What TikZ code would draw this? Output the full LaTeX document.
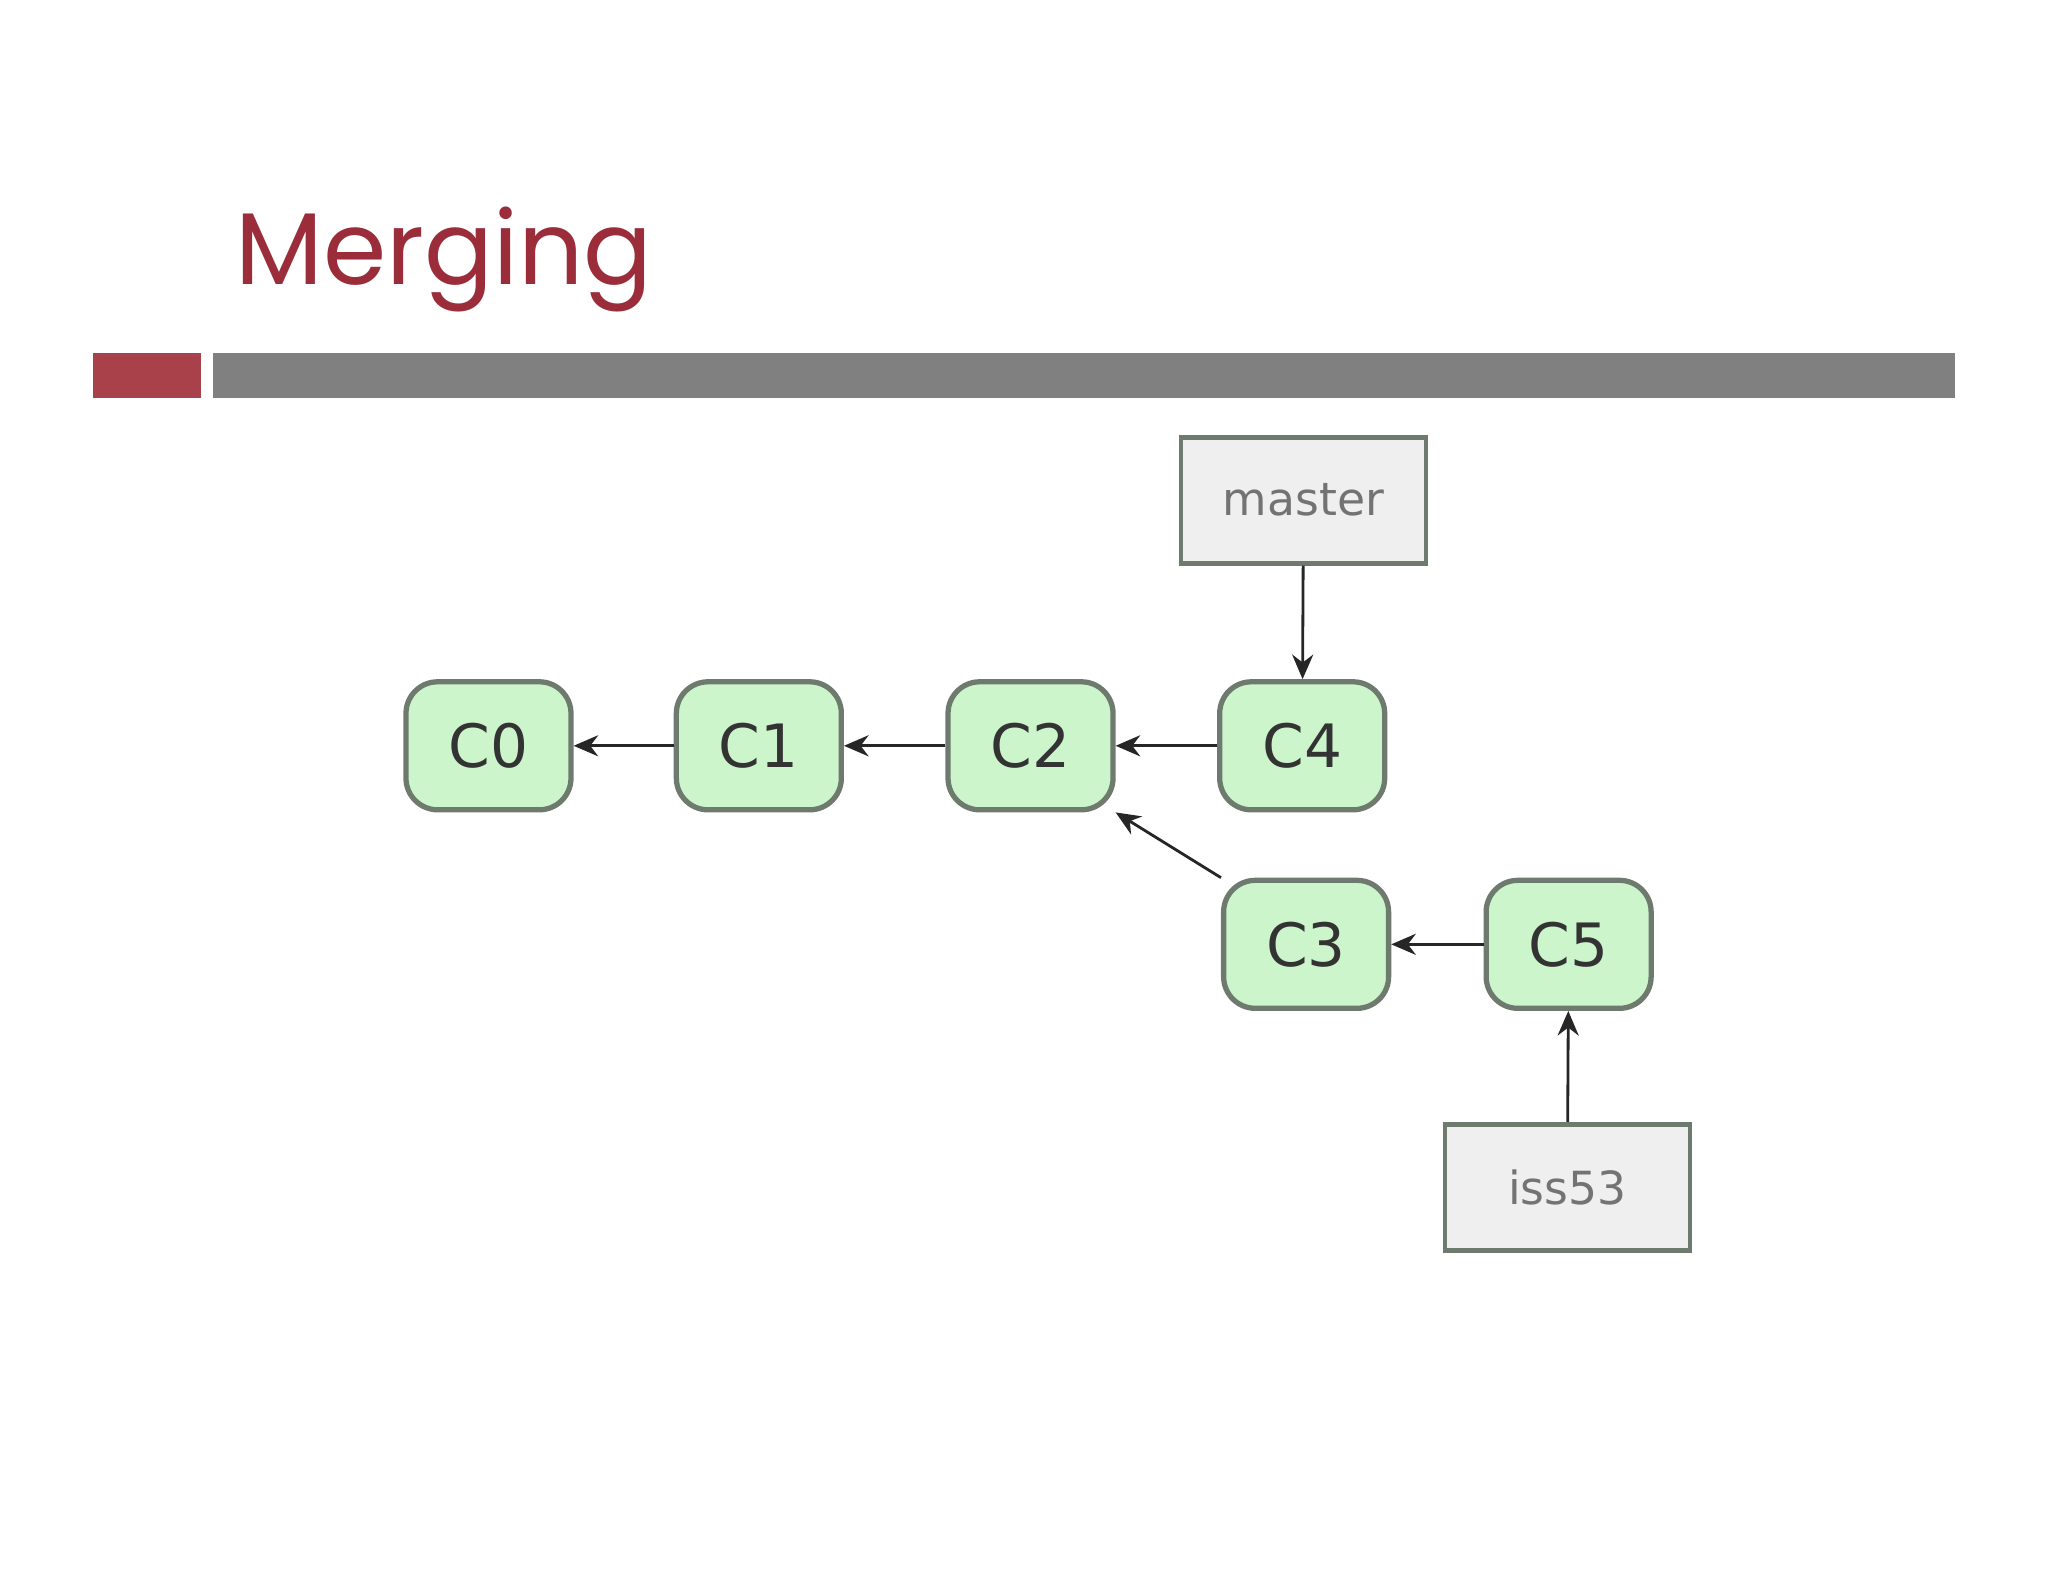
\documentclass[tikz,border=0pt]{standalone}
\usepackage{fontspec}
\setmainfont{Poppins}
\newfontfamily\labelfont{DejaVu Sans}
\usetikzlibrary{arrows.meta}
\definecolor{titlered}{HTML}{9B2D3A}
\definecolor{barred}{HTML}{A8414A}
\definecolor{bargray}{HTML}{808080}
\definecolor{commitgreen}{HTML}{CCF5CC}
\definecolor{commitedge}{HTML}{6E7A6E}
\definecolor{refgray}{HTML}{EFEFEF}

\begin{document}
\begin{tikzpicture}[x=0.013061cm,y=-0.013061cm]
	\tikzstyle{commit} = [rectangle,rounded corners=9pt,fill=commitgreen,draw=commitedge,line width=1.5pt,minimum width=1.65cm,minimum height=1.28cm,font=\labelfont\fontsize{17}{17}\selectfont,text=black!80]
	\tikzstyle{branch} = [rectangle,fill=refgray,draw=commitedge,line width=1.3pt,minimum width=2.45cm,minimum height=1.26cm,font=\labelfont\fontsize{13}{13}\selectfont,text=black!55]
	\tikzstyle{edge} = [-{Stealth[length=7pt,width=6pt]},line width=0.8pt,draw=black!85]
	\useasboundingbox (0,0) rectangle (1568,1211);
	\node[anchor=base west,text=titlered,font=\fontsize{29}{29}\selectfont,inner sep=0pt] (title) at (180,218) {Merging};
	\fill[barred] (71,270) rectangle (154,305);
	\fill[bargray] (163,270) rectangle (1497,305);
	\node[commit] (c0) at (374,571) {C0};
	\node[commit] (c1) at (581,571) {C1};
	\node[commit] (c2) at (789,571) {C2};
	\node[commit] (c4) at (997,571) {C4};
	\node[commit] (c3) at (1000,723) {C3};
	\node[commit] (c5) at (1201,723) {C5};
	\node[branch] (master) at (998,383) {master};
	\node[branch] (iss53) at (1200,909) {iss53};
	\draw[edge] (c1)--(c0);
	\draw[edge] (c2)--(c1);
	\draw[edge] (c4)--(c2);
	\draw[edge] (c3.north west)--(c2.south east);
	\draw[edge] (c5)--(c3);
	\draw[edge] (master)--(c4);
	\draw[edge] (iss53)--(c5);
\end{tikzpicture}
\end{document}
